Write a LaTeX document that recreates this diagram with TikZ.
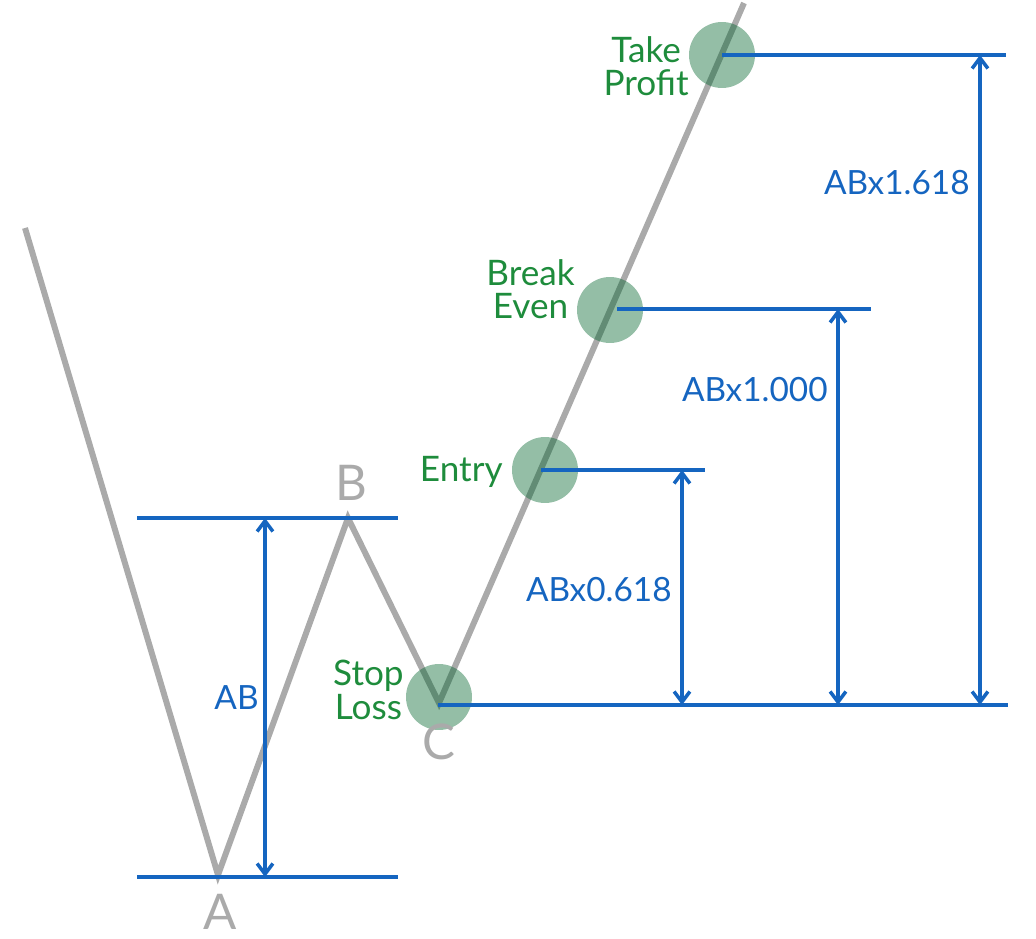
\documentclass[tikz,border=0pt]{standalone}
\usepackage{fontspec}
\setmainfont{Lato}
\usepackage{xcolor}
\usepackage{tikz}
\usetikzlibrary{arrows.meta}
\definecolor{swing}{RGB}{170,170,170}
\definecolor{level}{RGB}{21,101,192}
\definecolor{tagtext}{RGB}{30,140,60}
\definecolor{dotfill}{RGB}{0,100,44}

\begin{document}
\begin{tikzpicture}
                        [x=0.02cm, y=-0.02cm,
                        wave/.style = {draw=swing, line width=3.4pt},
                        rule/.style = {draw=level, line width=2pt},
                        gauge/.style = {rule,
                                    {Straight Barb[length=6pt,width=9pt]}-{Straight Barb[length=6pt,width=9pt]}},
                        dot/.style = {circle, fill=dotfill, fill opacity=0.42,
                                    minimum size=1.32cm, inner sep=0pt},
                        tag/.style = {text=tagtext, align=center, anchor=east, inner sep=0pt,
                                    font=\fontsize{20}{19}\selectfont},
                        ratio/.style = {text=level, anchor=east, inner sep=0pt,
                                    font=\fontsize{19}{19}\selectfont},
                        pivot/.style = {text=swing, inner sep=0pt,
                                    font=\fontsize{28}{28}\selectfont}]
                        \useasboundingbox (0,0) rectangle (1036,939);
                        % Puntos de giro
                        \coordinate (S) at (25,228);
                        \coordinate (A) at (218,875);
                        \coordinate (B) at (348,518);
                        \coordinate (C) at (439,703);
                        \coordinate (T) at (744,3);
                        \draw[wave] (S) -- (A) -- (B) -- (C) -- (T);
                        % Niveles
                        \node[dot] (sl) at (439,697) {};
                        \node[dot] (en) at (545,470) {};
                        \node[dot] (be) at (610,310) {};
                        \node[dot] (tp) at (722,55) {};
                        % Lineas AB
                        \coordinate (aL) at (137,877);
                        \coordinate (aR) at (398,877);
                        \coordinate (bL) at (137,518);
                        \coordinate (bR) at (398,518);
                        \draw[rule] (aL) -- (aR);
                        \draw[rule] (bL) -- (bR);
                        \coordinate (abTop) at (265,518);
                        \coordinate (abBot) at (265,877);
                        \draw[gauge] (abTop) -- (abBot);
                        % Lineas de salida
                        \coordinate (cL) at (438,705);
                        \coordinate (cR) at (1008,705);
                        \coordinate (enL) at (541,470);
                        \coordinate (enR) at (705,470);
                        \coordinate (beL) at (617,309);
                        \coordinate (beR) at (871,309);
                        \coordinate (tpL) at (722,55);
                        \coordinate (tpR) at (1006,55);
                        \draw[rule] (cL) -- (cR);
                        \draw[rule] (enL) -- (enR);
                        \draw[rule] (beL) -- (beR);
                        \draw[rule] (tpL) -- (tpR);
                        % Cotas
                        \coordinate (g1t) at (682,470);
                        \coordinate (g1b) at (682,705);
                        \coordinate (g2t) at (838,309);
                        \coordinate (g2b) at (838,705);
                        \coordinate (g3t) at (980,55);
                        \coordinate (g3b) at (980,705);
                        \draw[gauge] (g1t) -- (g1b);
                        \draw[gauge] (g2t) -- (g2b);
                        \draw[gauge] (g3t) -- (g3b);
                        % Etiquetas
                        \node[ratio] (lab) at (259,698) {AB};
                        \node[ratio] (l618a) at (672,590) {ABx0.618};
                        \node[ratio] (l1000) at (828,390) {ABx1.000};
                        \node[ratio] (l1618) at (970,183) {ABx1.618};
                        \node[tag] (tsl) at (404,690) {Stop\\Loss};
                        \node[tag] (ten) at (503,472) {Entry};
                        \node[tag] (tbe) at (575,289) {Break\\Even};
                        \node[tag] (ttp) at (689,66) {Take\\Profit};
                        \node[pivot] (nA) at (220,912) {A};
                        \node[pivot] (nB) at (351,483) {B};
                        \node[pivot] (nC) at (439,742) {C};
                    \end{tikzpicture}
\end{document}
